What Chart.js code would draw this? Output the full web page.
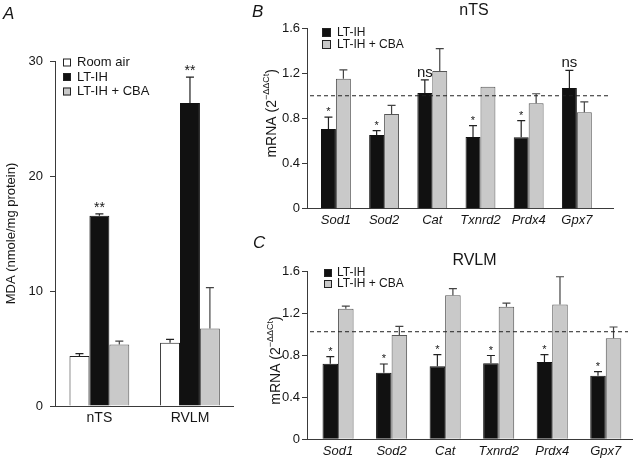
<!DOCTYPE html>
<html>
<head>
<meta charset="utf-8">
<script src="https://cdn.jsdelivr.net/npm/chart.js@4.4.1/dist/chart.umd.min.js"></script>
<style>
  html, body { margin: 0; padding: 0; background: #fff; }
  #wrap { position: relative; width: 635px; height: 458px; overflow: hidden; }
  canvas { position: absolute; }
</style>
</head>
<body>
<div id="wrap">
  <canvas id="chartA" width="240" height="458" style="left:0;top:0"></canvas>
  <canvas id="chartB" width="395" height="228" style="left:240px;top:0"></canvas>
  <canvas id="chartC" width="395" height="230" style="left:240px;top:228px"></canvas>
</div>
<script>
// panel A - MDA levels
var regions = ['nTS', 'RVLM'];
var mdaRoomAir = [4.35, 5.5];
var mdaRoomAirErr = [0.2, 0.3];
var mdaLtih = [16.55, 26.35];
var mdaLtihErr = [0.15, 2.25];
var mdaCba = [5.35, 6.75];
var mdaCbaErr = [0.3, 3.55];
var mdaMarks = ['**', '**'];

// panels B and C - antioxidant mRNA
var genes = ['Sod1', 'Sod2', 'Cat', 'Txnrd2', 'Prdx4', 'Gpx7'];
var ntsLtih = [0.705, 0.652, 1.024, 0.635, 0.632, 1.069];
var ntsLtihErr = [0.105, 0.04, 0.116, 0.1, 0.148, 0.156];
var ntsCba = [1.15, 0.838, 1.22, 1.08, 0.933, 0.853];
var ntsCbaErr = [0.08, 0.077, 0.197, 0, 0.085, 0.092];
var ntsMarks = ['*', '*', 'ns', '*', '*', 'ns'];
var ntsControl = 1.0;

var rvlmLtih = [0.722, 0.636, 0.697, 0.725, 0.738, 0.607];
var rvlmLtihErr = [0.067, 0.083, 0.111, 0.075, 0.07, 0.039];
var rvlmCba = [1.247, 0.996, 1.374, 1.266, 1.288, 0.964];
var rvlmCbaErr = [0.025, 0.082, 0.064, 0.034, 0.264, 0.108];
var rvlmMarks = ['*', '*', '*', '*', '*', '*'];
var rvlmControl = 1.027;

var FONT = '"Liberation Sans", Arial, Helvetica, sans-serif';
var INK = '#161616';
var AXIS = '#3a3a3a';
var BLACK = '#111111';
var GREY = '#c9c9c9';

Chart.defaults.font.family = FONT;
Chart.defaults.color = INK;

function xy(values) {
  return values.map(function(v, i) { return { x: i, y: v }; });
}

// error bars, significance marks, legend, titles, control line
var panelPlugin = {
  id: 'panel',
  afterDatasetsDraw: function(chart, args, opts) {
    var ctx = chart.ctx, yScale = chart.scales.y;
    chart.data.datasets.forEach(function(ds, di) {
      var meta = chart.getDatasetMeta(di);
      meta.data.forEach(function(bar, i) {
        var e = ds.errors ? ds.errors[i] : 0;
        var top = yScale.getPixelForValue(ds.data[i].y + e);
        ctx.save();
        if (e > 0) {
          ctx.strokeStyle = ds.errColor;
          ctx.lineWidth = 1.2;
          ctx.beginPath();
          ctx.moveTo(bar.x, bar.y);
          ctx.lineTo(bar.x, top);
          ctx.moveTo(bar.x - 4, top);
          ctx.lineTo(bar.x + 4, top);
          ctx.stroke();
        }
        if (ds.marks && ds.marks[i]) {
          var m = ds.marks[i];
          ctx.fillStyle = INK;
          ctx.textAlign = 'center';
          ctx.textBaseline = 'alphabetic';
          if (m === 'ns') {
            ctx.font = '15px ' + FONT;
            ctx.fillText(m, bar.x, top - 3);
          } else {
            ctx.font = opts.markSize + 'px ' + FONT;
            ctx.fillText(m, bar.x, top - 2);
          }
        }
        ctx.restore();
      });
    });
  },
  afterDraw: function(chart, args, opts) {
    var ctx = chart.ctx, a = chart.chartArea;
    ctx.save();
    if (opts.refLine !== undefined) {
      var y = chart.scales.y.getPixelForValue(opts.refLine);
      ctx.strokeStyle = '#222';
      ctx.lineWidth = 1;
      ctx.setLineDash([4, 3]);
      ctx.beginPath();
      ctx.moveTo(a.left + 3, y);
      ctx.lineTo(a.right - 4, y);
      ctx.stroke();
      ctx.setLineDash([]);
    }
    if (opts.legend) {
      var L = opts.legend;
      ctx.font = L.size + 'px ' + FONT;
      ctx.textBaseline = 'middle';
      ctx.textAlign = 'left';
      chart.data.datasets.forEach(function(ds, di) {
        var cy = L.y + di * L.gap;
        ctx.fillStyle = ds.backgroundColor;
        ctx.fillRect(L.x, cy - L.box / 2, L.box, L.box);
        ctx.strokeStyle = '#222';
        ctx.lineWidth = 1;
        ctx.strokeRect(L.x + 0.5, cy - L.box / 2 + 0.5, L.box - 1, L.box - 1);
        ctx.fillStyle = INK;
        ctx.fillText(ds.label, L.textX, cy);
      });
    }
    (opts.texts || []).forEach(function(t) {
      ctx.font = t.font;
      ctx.fillStyle = INK;
      ctx.textAlign = t.align;
      ctx.textBaseline = 'middle';
      ctx.fillText(t.text, t.x, t.y);
    });
    if (opts.yTitle) {
      var T = opts.yTitle;
      ctx.translate(T.x, (a.top + a.bottom) / 2 + (T.shift || 0));
      ctx.rotate(-Math.PI / 2);
      ctx.fillStyle = INK;
      ctx.textBaseline = 'middle';
      ctx.textAlign = 'left';
      var total = 0;
      T.parts.forEach(function(p) {
        ctx.font = p.size + 'px ' + FONT;
        total += ctx.measureText(p.text).width;
      });
      var px = -total / 2;
      T.parts.forEach(function(p) {
        ctx.font = p.size + 'px ' + FONT;
        ctx.fillText(p.text, px, -p.rise);
        px += ctx.measureText(p.text).width;
      });
    }
    ctx.restore();
  }
};

function barOptions(cats, c) {
  return {
    responsive: false,
    animation: false,
    layout: { padding: { left: 0, right: c.padRight, top: c.padTop, bottom: 0 } },
    datasets: { bar: { categoryPercentage: c.groupWidth, barPercentage: 1, borderWidth: 1 } },
    plugins: { legend: { display: false }, tooltip: { enabled: false }, panel: c.panel },
    scales: {
      x: {
        type: 'linear',
        offset: false,
        min: c.xMin,
        max: c.xMax,
        afterBuildTicks: function(s) {
          s.ticks = cats.map(function(n, i) { return { value: i }; });
        },
        afterFit: function(s) { s.height = c.xHeight; },
        grid: { display: false, drawTicks: false, offset: false },
        border: { color: AXIS, width: 1 },
        ticks: {
          padding: c.xPad,
          font: c.xFont,
          color: INK,
          autoSkip: false,
          maxRotation: 0,
          callback: function(v) { return cats[v]; }
        }
      },
      y: {
        min: 0,
        max: c.yMax,
        afterFit: function(s) { s.width = c.yWidth; },
        grid: { drawOnChartArea: false, tickLength: 5, color: AXIS },
        border: { color: AXIS, width: 1 },
        ticks: {
          stepSize: c.yStep,
          padding: c.yPad,
          font: { size: 13 },
          color: INK,
          callback: function(v) { return v === 0 ? '0' : v.toFixed(c.yDecimals); }
        },
        title: c.yTitle || { display: false }
      }
    }
  };
}

var chartA = new Chart(document.getElementById('chartA'), {
  type: 'bar',
  data: {
    datasets: [
      { label: 'Room air', data: xy(mdaRoomAir), errors: mdaRoomAirErr,
        backgroundColor: '#ffffff', borderColor: '#222', errColor: '#222' },
      { label: 'LT-IH', data: xy(mdaLtih), errors: mdaLtihErr, marks: mdaMarks,
        backgroundColor: BLACK, borderColor: BLACK, errColor: '#222' },
      { label: 'LT-IH + CBA', data: xy(mdaCba), errors: mdaCbaErr,
        backgroundColor: GREY, borderColor: '#555', errColor: '#444' }
    ]
  },
  options: barOptions(regions, {
    padTop: 61, padRight: 7, groupWidth: 0.66,
    xMin: -0.49, xMax: 1.475, xHeight: 52, xPad: 3.5, xFont: { size: 14 },
    yMax: 30, yStep: 10, yWidth: 55, yPad: 7, yDecimals: 0,
    yTitle: { display: true, text: 'MDA (nmole/mg protein)', font: { size: 13 }, color: INK, padding: { top: 4, bottom: 0 } },
    panel: {
      markSize: 14,
      legend: { x: 63, y: 62.5, gap: 14.5, box: 8, textX: 77, size: 13 },
      texts: [{ text: 'A', x: 3, y: 14, font: 'italic 17px ' + FONT, align: 'left' }]
    }
  }),
  plugins: [panelPlugin]
});

var chartB = new Chart(document.getElementById('chartB'), {
  type: 'bar',
  data: {
    datasets: [
      { label: 'LT-IH', data: xy(ntsLtih), errors: ntsLtihErr, marks: ntsMarks,
        backgroundColor: BLACK, borderColor: BLACK, errColor: '#222' },
      { label: 'LT-IH + CBA', data: xy(ntsCba), errors: ntsCbaErr,
        backgroundColor: GREY, borderColor: '#555', errColor: '#444' }
    ]
  },
  options: barOptions(genes, {
    padTop: 28, padRight: 22, groupWidth: 0.62,
    xMin: -0.6, xMax: 5.75, xHeight: 19.3, xPad: 3.5, xFont: { size: 13, style: 'italic' },
    yMax: 1.6, yStep: 0.4, yWidth: 67, yPad: 2, yDecimals: 1,
    panel: {
      markSize: 11,
      refLine: ntsControl,
      legend: { x: 82, y: 32.5, gap: 12, box: 9, textX: 97, size: 12 },
      texts: [
        { text: 'B', x: 12, y: 12.5, font: 'italic 17px ' + FONT, align: 'left' },
        { text: 'nTS', x: 234, y: 11, font: '16px ' + FONT, align: 'center' }
      ],
      yTitle: { x: 32, shift: -5, parts: [
        { text: 'mRNA (2', size: 14, rise: 0 },
        { text: '\u2212\u0394\u0394Ct', size: 9, rise: 5 },
        { text: ')', size: 14, rise: 0 }
      ] }
    }
  }),
  plugins: [panelPlugin]
});

var chartC = new Chart(document.getElementById('chartC'), {
  type: 'bar',
  data: {
    datasets: [
      { label: 'LT-IH', data: xy(rvlmLtih), errors: rvlmLtihErr, marks: rvlmMarks,
        backgroundColor: BLACK, borderColor: BLACK, errColor: '#222' },
      { label: 'LT-IH + CBA', data: xy(rvlmCba), errors: rvlmCbaErr,
        backgroundColor: GREY, borderColor: '#555', errColor: '#444' }
    ]
  },
  options: barOptions(genes, {
    padTop: 43.7, padRight: 3, groupWidth: 0.58,
    xMin: -0.58, xMax: 5.49, xHeight: 18.7, xPad: 4.5, xFont: { size: 13, style: 'italic' },
    yMax: 1.6, yStep: 0.4, yWidth: 67, yPad: 2, yDecimals: 1,
    panel: {
      markSize: 11,
      refLine: rvlmControl,
      legend: { x: 84, y: 45, gap: 11, box: 8, textX: 97, size: 12 },
      texts: [
        { text: 'C', x: 13, y: 15.5, font: 'italic 17px ' + FONT, align: 'left' },
        { text: 'RVLM', x: 234.5, y: 32.7, font: '16px ' + FONT, align: 'center' }
      ],
      yTitle: { x: 36, shift: 5, parts: [
        { text: 'mRNA (2', size: 14, rise: 0 },
        { text: '\u2212\u0394\u0394Ct', size: 9, rise: 5 },
        { text: ')', size: 14, rise: 0 }
      ] }
    }
  }),
  plugins: [panelPlugin]
});
</script>
</body>
</html>
